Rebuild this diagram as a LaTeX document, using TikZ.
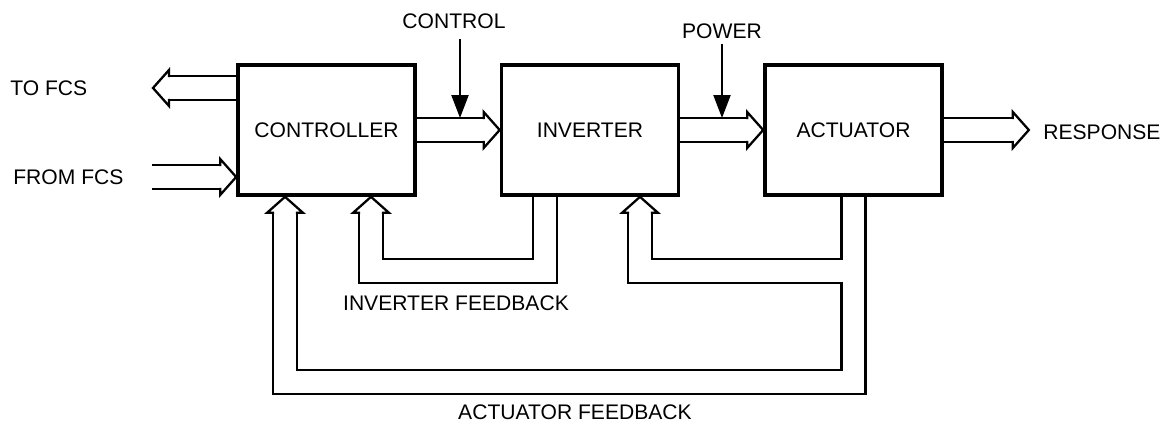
\documentclass[tikz,border=0pt]{standalone}
\usepackage{fontspec}
\setmainfont{Liberation Sans}
\usepackage{tikz}
\usetikzlibrary{arrows.meta,calc}
\tikzset{
  blk/.style={draw, line width=2.1pt, minimum width=3.54cm, minimum height=2.6cm,
              font=\fontsize{12}{14}\selectfont},
  lbl/.style={font=\fontsize{12}{14}\selectfont, inner sep=0pt},
  band/.style={line width=1.3pt, double, double distance=0.434cm},
  feed/.style={line width=1.3pt, -{Triangle[length=4.6mm, width=3.4mm]}},
  hhead/.pic={\draw[line width=1.3pt, line cap=rect]
                (-16,12) -- (-16,18) -- (0,0) -- (-16,-18) -- (-16,-12);},
}

\begin{document}
\begin{tikzpicture}[x=0.02cm, y=-0.02cm]
    \useasboundingbox (0,0) rectangle (1166,432);
    \node[blk] (ctrl) at (326.5,130) {CONTROLLER};
    \node[blk] (inv)  at (590,130)   {INVERTER};
    \node[blk] (act)  at (853.5,130) {ACTUATOR};

    \coordinate (tofcs)   at (153,88);
    \coordinate (fromfcs) at (152,177);
    \coordinate (cin) at (460,118);
    \coordinate (pin) at (722,118);
    \coordinate (ifb)  at (371,271);
    \coordinate (afb1) at (640,271);
    \coordinate (afb2) at (285,382);

    \node[lbl, anchor=west] (tolbl)   at (10,88)    {TO FCS};
    \node[lbl, anchor=west] (fromlbl) at (13,177)   {FROM FCS};
    \node[lbl] (ctllbl) at (454,21)  {CONTROL};
    \node[lbl] (pwrlbl) at (722,31)  {POWER};
    \node[lbl, anchor=west] (resplbl) at (1043,132) {RESPONSE};
    \node[lbl] (ifblbl) at (456,303) {INVERTER FEEDBACK};
    \node[lbl] (afblbl) at (575,412) {ACTUATOR FEEDBACK};

    \draw[band] (ctrl.west |- tofcs) -- ($(tofcs)+(16,0)$);
    \pic[rotate=180] at (tofcs) {hhead};
    \draw[band] (fromfcs) -- ($(fromfcs -| ctrl.west)+(-16,0)$);
    \pic at (fromfcs -| ctrl.west) {hhead};
    \draw[band] (ctrl.east) -- ($(ctrl.east -| inv.west)+(-16,0)$);
    \pic at (ctrl.east -| inv.west) {hhead};
    \draw[band] (inv.east) -- ($(inv.east -| act.west)+(-16,0)$);
    \pic at (inv.east -| act.west) {hhead};
    \draw[band] (act.east) -- ($(act.east)+(69,0)$);
    \pic at ($(act.east)+(85,0)$) {hhead};

    \draw[feed] ([yshift=-6pt]ctllbl.south -| cin) -- (cin);
    \draw[feed] ([yshift=-3pt]pwrlbl.south -| pin) -- (pin);

    \draw[band] ($(inv.south)+(-45,0)$) |- (ifb) -- ($(ctrl.south -| ifb)+(0,16)$);
    \draw[band] (act.south) |- (afb1) -- ($(inv.south -| afb1)+(0,16)$)
                (act.south) |- (afb2) -- ($(ctrl.south -| afb2)+(0,16)$);
    \foreach \c/\n in {ifb/ctrl, afb1/inv, afb2/ctrl}
      \pic[rotate=90] at (\n.south -| \c) {hhead};
\end{tikzpicture}
\end{document}
